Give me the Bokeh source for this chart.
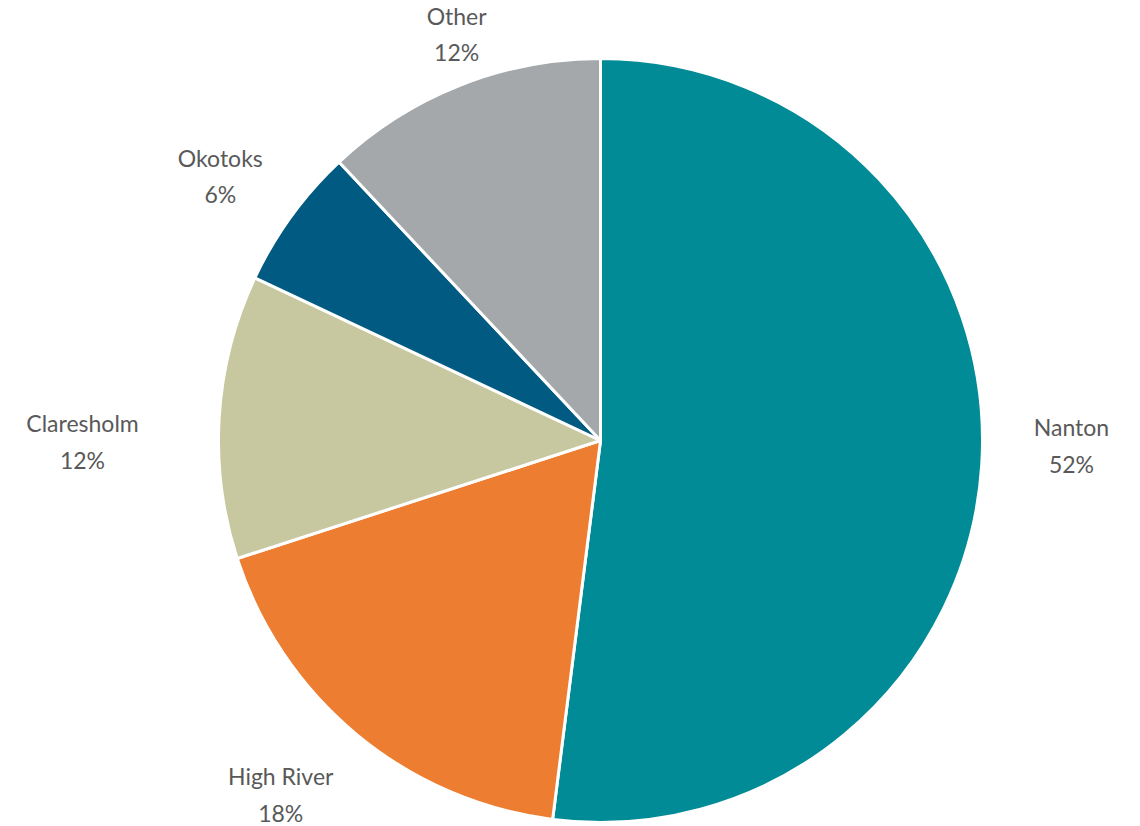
import math
from bokeh.plotting import figure
from bokeh.models import Range1d, ColumnDataSource
from bokeh.core.properties import value
from bokeh.embed import file_html
from bokeh.resources import INLINE

# ---- data ----
categories = ["Nanton", "High River", "Claresholm", "Okotoks", "Other"]
shares = [52, 18, 12, 6, 12]
colors = ["#008B96", "#ED7D31", "#C7C8A0", "#005A82", "#A5A8AB"]

# ---- layout ----
W, H = 1140, 826
cx, cy = 600, 826 - 440
radius = 382
label_dist = [471, 477, 518, 463, 431]      # distance of label centre from pie centre
label_nudge = [3.0, -2.5, 3.7, 1.2, -2.1]   # degrees (math sense) relative to the slice middle

total = float(sum(shares))
starts, ends, lx, ly, texts = [], [], [], [], []
a = math.pi / 2
for i, (c, s) in enumerate(zip(categories, shares)):
    span = 2 * math.pi * s / total
    starts.append(a)
    ends.append(a - span)
    mid = a - span / 2 + math.radians(label_nudge[i])
    lx.append(cx + label_dist[i] * math.cos(mid))
    ly.append(cy + label_dist[i] * math.sin(mid))
    texts.append(f"{c}\n{round(100 * s / total)}%")
    a -= span

src = ColumnDataSource(dict(start=starts, end=ends, color=colors,
                            x=[cx] * len(shares), y=[cy] * len(shares)))
lsrc = ColumnDataSource(dict(x=lx, y=ly, text=texts))

p = figure(width=W, height=H, output_backend="svg", toolbar_location=None,
           x_range=Range1d(0, W), y_range=Range1d(0, H), min_border=0)
p.axis.visible = False
p.grid.visible = False
p.outline_line_color = None
p.background_fill_color = "white"
p.border_fill_color = "white"

p.wedge(x="x", y="y", radius=radius, start_angle="start", end_angle="end",
        direction="clock", fill_color="color", line_color="white",
        line_width=3, source=src)

p.text(x="x", y="y", text="text", source=lsrc, text_align="center",
       text_baseline="middle", text_font=value("Lato"), text_font_size="23px",
       text_color="#595959", text_line_height=1.3)

open("out.html", "w").write(file_html(p, INLINE))
